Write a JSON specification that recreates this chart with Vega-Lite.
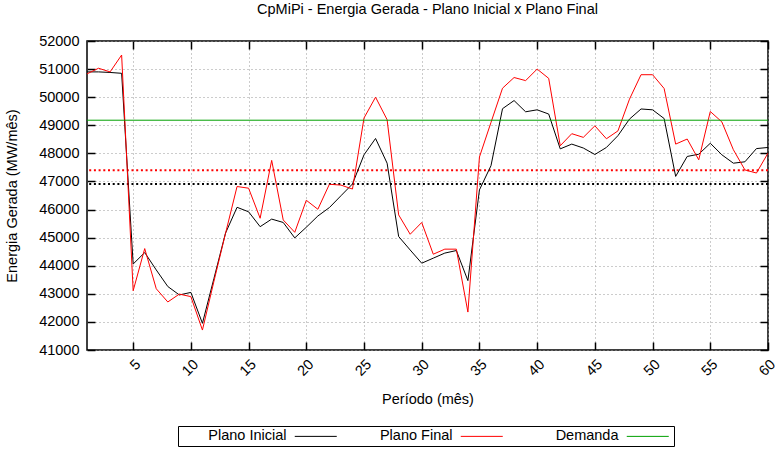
{
  "$schema": "https://vega.github.io/schema/vega-lite/v6.json",
  "width": 681,
  "height": 309,
  "autosize": {"type": "none"},
  "padding": {"left": 87, "top": 41, "right": 15, "bottom": 116},
  "background": "white",
  "title": {
    "text": "CpMiPi - Energia Gerada - Plano Inicial x Plano Final",
    "fontSize": 14.5,
    "fontWeight": "normal",
    "color": "black",
    "offset": 16
  },
  "config": {
    "font": "Liberation Sans",
    "view": {"stroke": "black", "strokeWidth": 1.5},
    "axis": {
      "domain": false,
      "labelFontSize": 14.5,
      "labelColor": "black",
      "titleFontSize": 14.5,
      "titleFontWeight": "normal",
      "titleColor": "black",
      "tickColor": "black",
      "tickWidth": 1.5,
      "tickSize": -8,
      "gridColor": "#999999",
      "gridDash": [1, 3],
      "gridWidth": 1
    },
    "legend": {
      "orient": "none",
      "legendX": 91,
      "legendY": 385,
      "direction": "horizontal",
      "symbolType": "M-4.2,0H4.2",
      "symbolSize": 100,
      "symbolStrokeWidth": 1,
      "labelAlign": "right",
      "labelOffset": -36.5,
      "symbolOffset": 127.5,
      "labelFontSize": 14.5,
      "labelColor": "black",
      "strokeColor": "black",
      "strokeWidth": 1,
      "fillColor": "white",
      "padding": 3,
      "columnPadding": 8,
      "gridAlign": "all"
    }
  },
  "datasets": {
    "series": [
      {"mes": 1, "serie": "Plano Inicial", "valor": 50900},
      {"mes": 2, "serie": "Plano Inicial", "valor": 50900},
      {"mes": 3, "serie": "Plano Inicial", "valor": 50880},
      {"mes": 4, "serie": "Plano Inicial", "valor": 50850},
      {"mes": 5, "serie": "Plano Inicial", "valor": 44060},
      {"mes": 6, "serie": "Plano Inicial", "valor": 44470},
      {"mes": 7, "serie": "Plano Inicial", "valor": 43850},
      {"mes": 8, "serie": "Plano Inicial", "valor": 43260},
      {"mes": 9, "serie": "Plano Inicial", "valor": 42960},
      {"mes": 10, "serie": "Plano Inicial", "valor": 43050},
      {"mes": 11, "serie": "Plano Inicial", "valor": 41950},
      {"mes": 12, "serie": "Plano Inicial", "valor": 43550},
      {"mes": 13, "serie": "Plano Inicial", "valor": 45160},
      {"mes": 14, "serie": "Plano Inicial", "valor": 46080},
      {"mes": 15, "serie": "Plano Inicial", "valor": 45920},
      {"mes": 16, "serie": "Plano Inicial", "valor": 45390},
      {"mes": 17, "serie": "Plano Inicial", "valor": 45660},
      {"mes": 18, "serie": "Plano Inicial", "valor": 45540},
      {"mes": 19, "serie": "Plano Inicial", "valor": 44990},
      {"mes": 20, "serie": "Plano Inicial", "valor": 45370},
      {"mes": 21, "serie": "Plano Inicial", "valor": 45770},
      {"mes": 22, "serie": "Plano Inicial", "valor": 46070},
      {"mes": 23, "serie": "Plano Inicial", "valor": 46490},
      {"mes": 24, "serie": "Plano Inicial", "valor": 46910},
      {"mes": 25, "serie": "Plano Inicial", "valor": 47950},
      {"mes": 26, "serie": "Plano Inicial", "valor": 48530},
      {"mes": 27, "serie": "Plano Inicial", "valor": 47650},
      {"mes": 28, "serie": "Plano Inicial", "valor": 45040},
      {"mes": 29, "serie": "Plano Inicial", "valor": 44560},
      {"mes": 30, "serie": "Plano Inicial", "valor": 44090},
      {"mes": 31, "serie": "Plano Inicial", "valor": 44270},
      {"mes": 32, "serie": "Plano Inicial", "valor": 44450},
      {"mes": 33, "serie": "Plano Inicial", "valor": 44540},
      {"mes": 34, "serie": "Plano Inicial", "valor": 43470},
      {"mes": 35, "serie": "Plano Inicial", "valor": 46700},
      {"mes": 36, "serie": "Plano Inicial", "valor": 47560},
      {"mes": 37, "serie": "Plano Inicial", "valor": 49590},
      {"mes": 38, "serie": "Plano Inicial", "valor": 49880},
      {"mes": 39, "serie": "Plano Inicial", "valor": 49480},
      {"mes": 40, "serie": "Plano Inicial", "valor": 49550},
      {"mes": 41, "serie": "Plano Inicial", "valor": 49400},
      {"mes": 42, "serie": "Plano Inicial", "valor": 48160},
      {"mes": 43, "serie": "Plano Inicial", "valor": 48330},
      {"mes": 44, "serie": "Plano Inicial", "valor": 48190},
      {"mes": 45, "serie": "Plano Inicial", "valor": 47960},
      {"mes": 46, "serie": "Plano Inicial", "valor": 48210},
      {"mes": 47, "serie": "Plano Inicial", "valor": 48630},
      {"mes": 48, "serie": "Plano Inicial", "valor": 49220},
      {"mes": 49, "serie": "Plano Inicial", "valor": 49580},
      {"mes": 50, "serie": "Plano Inicial", "valor": 49550},
      {"mes": 51, "serie": "Plano Inicial", "valor": 49240},
      {"mes": 52, "serie": "Plano Inicial", "valor": 47180},
      {"mes": 53, "serie": "Plano Inicial", "valor": 47890},
      {"mes": 54, "serie": "Plano Inicial", "valor": 47970},
      {"mes": 55, "serie": "Plano Inicial", "valor": 48360},
      {"mes": 56, "serie": "Plano Inicial", "valor": 47950},
      {"mes": 57, "serie": "Plano Inicial", "valor": 47650},
      {"mes": 58, "serie": "Plano Inicial", "valor": 47700},
      {"mes": 59, "serie": "Plano Inicial", "valor": 48170},
      {"mes": 60, "serie": "Plano Inicial", "valor": 48210},
      {"mes": 1, "serie": "Plano Final", "valor": 50830},
      {"mes": 2, "serie": "Plano Final", "valor": 51030},
      {"mes": 3, "serie": "Plano Final", "valor": 50900},
      {"mes": 4, "serie": "Plano Final", "valor": 51500},
      {"mes": 5, "serie": "Plano Final", "valor": 43110},
      {"mes": 6, "serie": "Plano Final", "valor": 44610},
      {"mes": 7, "serie": "Plano Final", "valor": 43180},
      {"mes": 8, "serie": "Plano Final", "valor": 42710},
      {"mes": 9, "serie": "Plano Final", "valor": 42990},
      {"mes": 10, "serie": "Plano Final", "valor": 42900},
      {"mes": 11, "serie": "Plano Final", "valor": 41710},
      {"mes": 12, "serie": "Plano Final", "valor": 43450},
      {"mes": 13, "serie": "Plano Final", "valor": 45150},
      {"mes": 14, "serie": "Plano Final", "valor": 46820},
      {"mes": 15, "serie": "Plano Final", "valor": 46760},
      {"mes": 16, "serie": "Plano Final", "valor": 45690},
      {"mes": 17, "serie": "Plano Final", "valor": 47750},
      {"mes": 18, "serie": "Plano Final", "valor": 45630},
      {"mes": 19, "serie": "Plano Final", "valor": 45190},
      {"mes": 20, "serie": "Plano Final", "valor": 46330},
      {"mes": 21, "serie": "Plano Final", "valor": 46010},
      {"mes": 22, "serie": "Plano Final", "valor": 46900},
      {"mes": 23, "serie": "Plano Final", "valor": 46870},
      {"mes": 24, "serie": "Plano Final", "valor": 46730},
      {"mes": 25, "serie": "Plano Final", "valor": 49260},
      {"mes": 26, "serie": "Plano Final", "valor": 50000},
      {"mes": 27, "serie": "Plano Final", "valor": 49200},
      {"mes": 28, "serie": "Plano Final", "valor": 45810},
      {"mes": 29, "serie": "Plano Final", "valor": 45120},
      {"mes": 30, "serie": "Plano Final", "valor": 45540},
      {"mes": 31, "serie": "Plano Final", "valor": 44410},
      {"mes": 32, "serie": "Plano Final", "valor": 44590},
      {"mes": 33, "serie": "Plano Final", "valor": 44590},
      {"mes": 34, "serie": "Plano Final", "valor": 42350},
      {"mes": 35, "serie": "Plano Final", "valor": 47870},
      {"mes": 36, "serie": "Plano Final", "valor": 49100},
      {"mes": 37, "serie": "Plano Final", "valor": 50320},
      {"mes": 38, "serie": "Plano Final", "valor": 50700},
      {"mes": 39, "serie": "Plano Final", "valor": 50590},
      {"mes": 40, "serie": "Plano Final", "valor": 51000},
      {"mes": 41, "serie": "Plano Final", "valor": 50670},
      {"mes": 42, "serie": "Plano Final", "valor": 48270},
      {"mes": 43, "serie": "Plano Final", "valor": 48700},
      {"mes": 44, "serie": "Plano Final", "valor": 48570},
      {"mes": 45, "serie": "Plano Final", "valor": 48980},
      {"mes": 46, "serie": "Plano Final", "valor": 48520},
      {"mes": 47, "serie": "Plano Final", "valor": 48800},
      {"mes": 48, "serie": "Plano Final", "valor": 49930},
      {"mes": 49, "serie": "Plano Final", "valor": 50800},
      {"mes": 50, "serie": "Plano Final", "valor": 50800},
      {"mes": 51, "serie": "Plano Final", "valor": 50310},
      {"mes": 52, "serie": "Plano Final", "valor": 48330},
      {"mes": 53, "serie": "Plano Final", "valor": 48510},
      {"mes": 54, "serie": "Plano Final", "valor": 47770},
      {"mes": 55, "serie": "Plano Final", "valor": 49490},
      {"mes": 56, "serie": "Plano Final", "valor": 49120},
      {"mes": 57, "serie": "Plano Final", "valor": 48130},
      {"mes": 58, "serie": "Plano Final", "valor": 47410},
      {"mes": 59, "serie": "Plano Final", "valor": 47300},
      {"mes": 60, "serie": "Plano Final", "valor": 48010},
      {"mes": 1, "serie": "Demanda", "valor": 49180},
      {"mes": 60, "serie": "Demanda", "valor": 49180}
    ],
    "medias": [
      {"serie": "Plano Inicial", "valor": 46910},
      {"serie": "Plano Final", "valor": 47400}
    ]
  },
  "layer": [
    {
      "data": {"name": "medias"},
      "transform": [{"filter": "datum.serie === 'Plano Final'"}],
      "mark": {"type": "rule", "color": "#ff0000", "strokeWidth": 2, "strokeDash": [2, 2.7]},
      "encoding": {
        "y": {"field": "valor", "type": "quantitative", "scale": {"domain": [41000, 52000], "nice": false, "zero": false}, "axis": null}
      }
    },
    {
      "data": {"name": "medias"},
      "transform": [{"filter": "datum.serie === 'Plano Inicial'"}],
      "mark": {"type": "rule", "color": "#000000", "strokeWidth": 2, "strokeDash": [2, 2.7]},
      "encoding": {
        "y": {"field": "valor", "type": "quantitative", "axis": null}
      }
    },
    {
      "data": {"name": "series"},
      "mark": {"type": "line", "strokeWidth": 1, "clip": true},
      "encoding": {
        "x": {
          "field": "mes", "type": "quantitative",
          "scale": {"domain": [1, 60], "nice": false, "zero": false},
          "axis": {
            "orient": "bottom",
            "values": [5, 10, 15, 20, 25, 30, 35, 40, 45, 50, 55, 60],
            "labelAngle": -45,
            "labelPadding": 15,
            "title": "Período (mês)",
            "titleY": 49,
            "titleBaseline": "middle",
            "grid": true
          }
        },
        "y": {
          "field": "valor", "type": "quantitative",
          "scale": {"domain": [41000, 52000], "nice": false, "zero": false},
          "axis": {
            "orient": "left",
            "values": [41000, 42000, 43000, 44000, 45000, 46000, 47000, 48000, 49000, 50000, 51000, 52000],
            "format": "d",
            "labelPadding": 16,
            "title": "Energia Gerada (MW/mês)",
            "titleX": -75,
            "titleY": 154.5,
            "titleBaseline": "middle",
            "grid": true
          }
        },
        "color": {
          "field": "serie", "type": "nominal",
          "scale": {"domain": ["Plano Inicial", "Plano Final", "Demanda"], "range": ["#000000", "#ff0000", "#00a000"]},
          "legend": {"title": null}
        },
        "detail": {"field": "serie"}
      }
    },
    {
      "data": {"name": "series"},
      "mark": {"type": "point", "opacity": 0},
      "encoding": {
        "x": {
          "field": "mes", "type": "quantitative",
          "axis": {"orient": "top", "values": [5, 10, 15, 20, 25, 30, 35, 40, 45, 50, 55, 60], "labels": false, "title": null, "grid": false}
        },
        "y": {
          "field": "valor", "type": "quantitative",
          "axis": {"orient": "right", "values": [41000, 42000, 43000, 44000, 45000, 46000, 47000, 48000, 49000, 50000, 51000, 52000], "labels": false, "title": null, "grid": false}
        }
      }
    }
  ],
  "resolve": {"axis": {"x": "independent", "y": "independent"}}
}
